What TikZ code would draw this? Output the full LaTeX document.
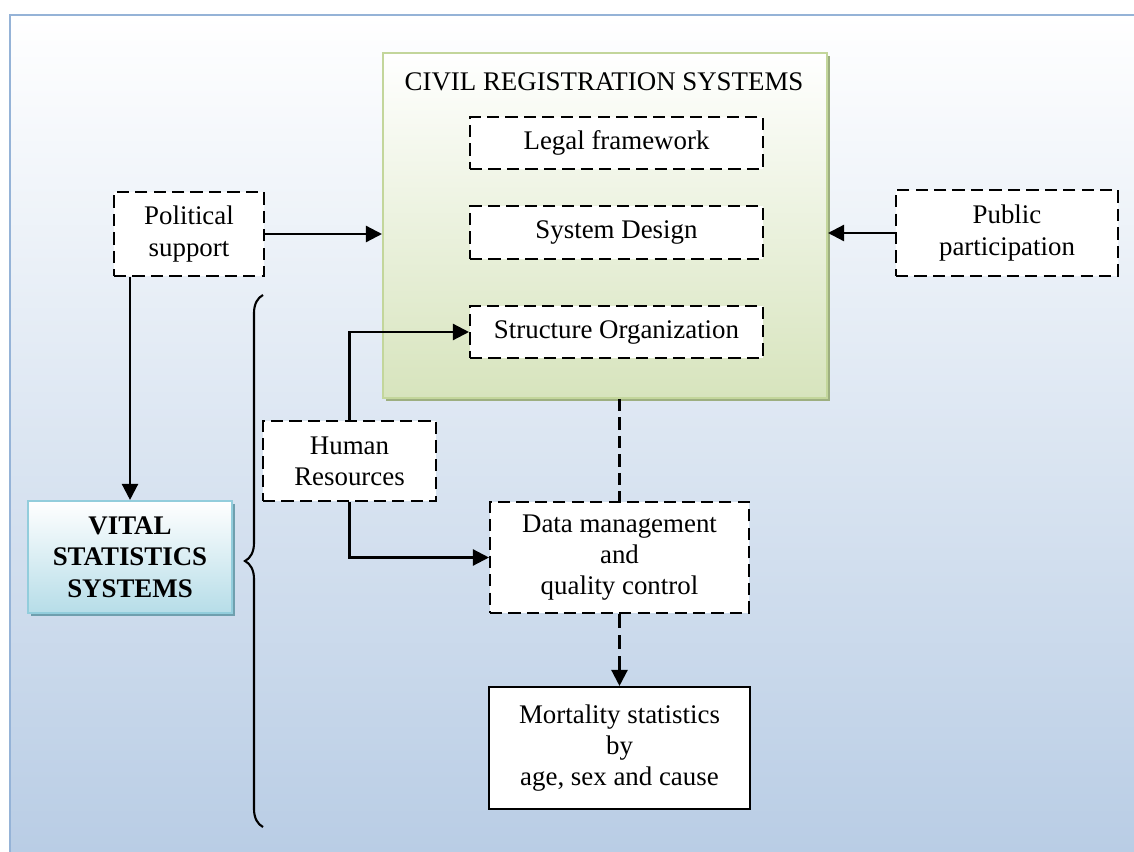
\documentclass[tikz,border=0pt]{standalone}
\usepackage{fontspec}
\setmainfont{Liberation Serif}
\usepackage{tikz}
\usetikzlibrary{arrows.meta,shadows,decorations.pathreplacing}

\definecolor{bgblue}{HTML}{B9CDE5}
\definecolor{framblue}{HTML}{95B3D7}
\definecolor{crsgreen}{HTML}{D7E4BD}
\definecolor{crsline}{HTML}{C3D69B}
\definecolor{crsshadow}{HTML}{9DAF80}
\definecolor{vsscyan}{HTML}{B6DDE8}
\definecolor{vssline}{HTML}{92CDDC}
\definecolor{vssshadow}{HTML}{6F9FAE}

\begin{document}
\begin{tikzpicture}[x=0.02cm,y=-0.02cm,
	txt/.style={font=\fontsize{15.3}{17.8}\selectfont,align=center,inner sep=0pt},
	dashbox/.style={txt,draw=black,fill=white,line width=1.2pt,dash pattern=on 7pt off 3.5pt},
	solidbox/.style={txt,draw=black,fill=white,line width=1.2pt},
	arr/.style={line width=1.3pt,-{Triangle[length=3.2mm,width=3.2mm]}}]
	
	\useasboundingbox (0,0) rectangle (1134,852);
	\shade[top color=white,bottom color=bgblue] (10,15) rectangle (1134,852);
	\draw[framblue,line width=1.2pt] (10,852) -- (10,15) -- (1134,15);
	
	\node[txt,draw=crsline,line width=1.2pt,shading=axis,top color=white,bottom color=crsgreen,
	      drop shadow={shadow xshift=0.06cm,shadow yshift=-0.06cm,fill=crsshadow,opacity=1},
	      minimum width=8.88cm,minimum height=6.9cm] (crs) at (605,225.5) {};
	\node[txt] (title) at (604,82) {CIVIL REGISTRATION SYSTEMS};
	\node[dashbox,minimum width=5.86cm,minimum height=1.04cm] (legal)  at (616.5,143)   {Legal framework};
	\node[dashbox,minimum width=5.86cm,minimum height=1.06cm] (design) at (616.5,232.5) {System Design};
	\node[dashbox,minimum width=5.86cm,minimum height=1.04cm] (struct) at (616.5,332)   {Structure Organization};
	
	\node[dashbox,minimum width=3.0cm,minimum height=1.68cm]  (pol)   at (189,234)    {Political\\support};
	\node[dashbox,minimum width=4.44cm,minimum height=1.72cm] (pub)   at (1007,233)   {Public\\participation};
	\node[dashbox,minimum width=3.46cm,minimum height=1.6cm]  (human) at (349.5,461)  {Human\\Resources};
	\node[dashbox,minimum width=5.18cm,minimum height=2.22cm] (data)  at (619.5,557.5) {Data management\\and\\quality control};
	\node[solidbox,minimum width=5.22cm,minimum height=2.44cm] (mort) at (619.5,748)   {Mortality statistics\\by\\age, sex and cause};
	
	\node[txt,font=\fontsize{15.3}{17.8}\selectfont\bfseries,draw=vssline,line width=1.2pt,
	      shading=axis,top color=white,bottom color=vsscyan,
	      drop shadow={shadow xshift=0.06cm,shadow yshift=-0.06cm,fill=vssshadow,opacity=1},
	      minimum width=4.08cm,minimum height=2.24cm] (vss) at (130,557) {VITAL\\STATISTICS\\SYSTEMS};
	
	% connectors
	\draw[arr] (pol) -- (pol -| crs.west);
	\draw[arr] (pub) -- (pub -| crs.east);
	\draw[arr] (pol.south -| vss.north) -- (vss.north);
	\draw[arr] (human.north) |- (struct.west);
	\draw[arr] (human.south) |- (data.west);
	\draw[line width=1.2pt,dash pattern=on 7pt off 3.5pt] (data.north |- crs.south) -- (data.north);
	\draw[arr,dash pattern=on 8pt off 4pt] (data.south) -- (mort.north);
	
	% brace
	\coordinate (bracebot) at (263,827);
	\coordinate (bracetop) at (263,295);
	\draw[line width=1.2pt,decorate,decoration={brace,amplitude=0.36cm}] (bracebot) -- (bracetop);
	
\end{tikzpicture}
\end{document}
